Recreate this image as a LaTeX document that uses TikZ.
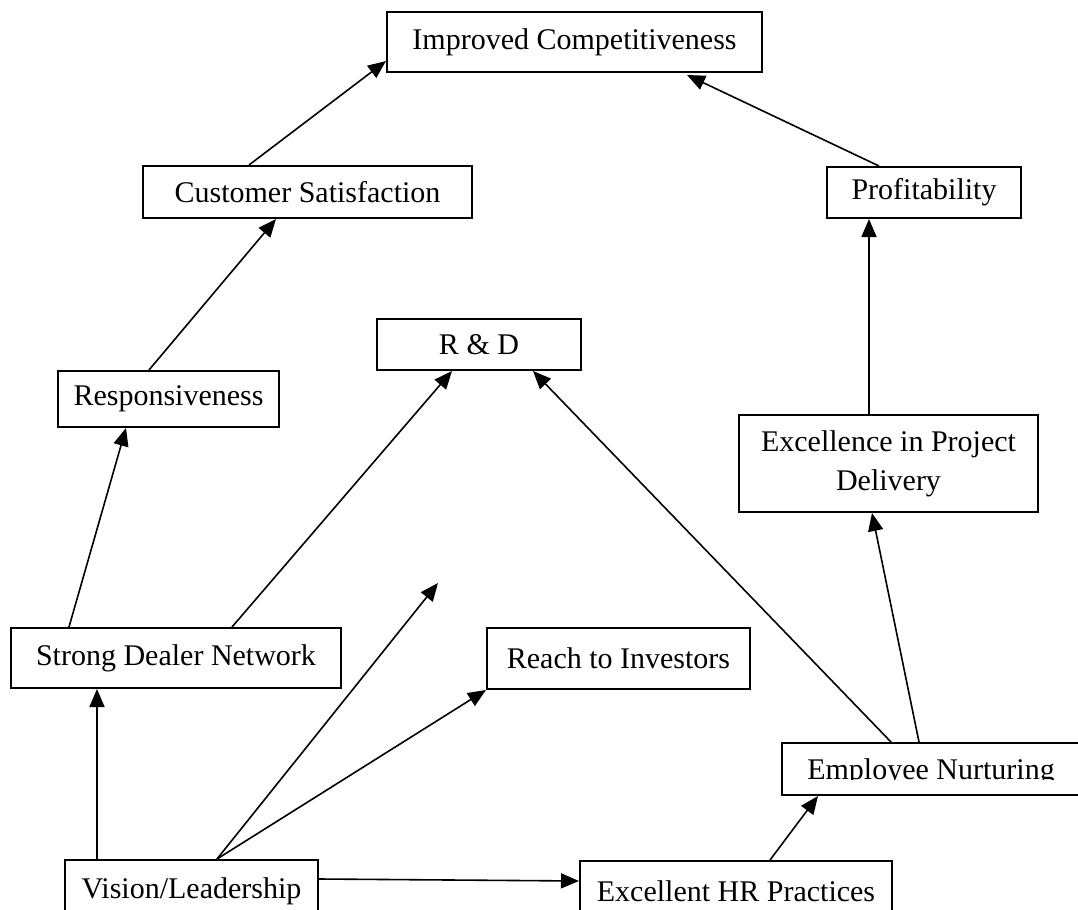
\documentclass[tikz,border=0pt]{standalone}
\usepackage{fontspec}
\setmainfont{Liberation Serif}
\usepackage{trimclip}
\usetikzlibrary{arrows.meta, calc}
\tikzset{
  blk/.style={rectangle,draw=black,line width=1pt,fill=white,align=center,
    font=\fontsize{15}{19.5}\selectfont,inner sep=2pt},
  ar/.style={-{Triangle[length=9pt,width=7.5pt]},line width=0.8pt,draw=black}
}

\begin{document}
\begin{tikzpicture}[x=0.5pt,y=-0.5pt]
\useasboundingbox (0,0) rectangle (1078,910);
\clip (0,0) rectangle (1078,910);
% boxes
\node[blk,minimum width=187.5pt,minimum height=30pt] (imp) at (574.5,42) {Improved Competitiveness};
\node[blk,minimum width=164.5pt,minimum height=26pt] (cust) at (307.5,192) {Customer Satisfaction};
\node[blk,minimum width=97pt,minimum height=25.5pt] (prof) at (924,192.5) {Profitability};
\node[blk,minimum width=102pt,minimum height=25.5pt] (rd) at (479,344.5) {R \& D};
\node[blk,minimum width=110.5pt,minimum height=28pt] (resp) at (168.5,399) {Responsiveness};
\node[blk,minimum width=149.5pt,minimum height=48.5pt] (exc) at (888.5,463.5) {Excellence in Project\\Delivery};
\node[blk,minimum width=165pt,minimum height=30pt] (sdn) at (176,658) {Strong Dealer Network};
\node[blk,minimum width=131.5pt,minimum height=30.5pt] (reach) at (618.5,658.5) {Reach to Investors};
\node[blk,minimum width=149pt,minimum height=26pt] (emp) at (931,769) {\clipbox{0pt 0.22em 0pt 0pt}{Employee Nurturing}};
\node[blk,minimum width=126.5pt,minimum height=31pt] (vis) at (191.5,891) {Vision/Leadership};
\node[blk,minimum width=156pt,minimum height=30pt] (hr) at (736,891) {Excellent HR Practices};
\coordinate (open) at (438,583);
% connectors
\draw[ar] ($(vis.north west)+(33,0)$) -- ($(sdn.south west)+(87,0)$);
\draw[ar] ($(vis.north west)+(153,0)$) -- (open);
\draw[ar] ($(vis.north west)+(153,0)$) -- (reach.south west);
\draw[ar] ($(vis.north east)+(0,20)$) -- ($(hr.north west)+(0,21)$);
\draw[ar] ($(hr.north west)+(191,0)$) -- ($(emp.south west)+(37,0)$);
\draw[ar] ($(emp.north west)+(138,0)$) -- ($(exc.south west)+(134,0)$);
\draw[ar] ($(emp.north west)+(110,0)$) -- ($(rd.south west)+(157,0)$);
\draw[ar] ($(sdn.north west)+(222,0)$) -- ($(rd.south west)+(76,0)$);
\draw[ar] ($(sdn.north west)+(59,0)$) -- ($(resp.south west)+(69,0)$);
\draw[ar] ($(resp.north west)+(92,0)$) -- ($(cust.south west)+(134,0)$);
\draw[ar] ($(cust.north west)+(107,0)$) -- ($(imp.north west)+(0,50)$);
\draw[ar] ($(exc.north west)+(131,0)$) -- ($(prof.south west)+(43,0)$);
\draw[ar] ($(prof.north west)+(53,0)$) -- ($(imp.south west)+(301,2)$);
\end{tikzpicture}
\end{document}
